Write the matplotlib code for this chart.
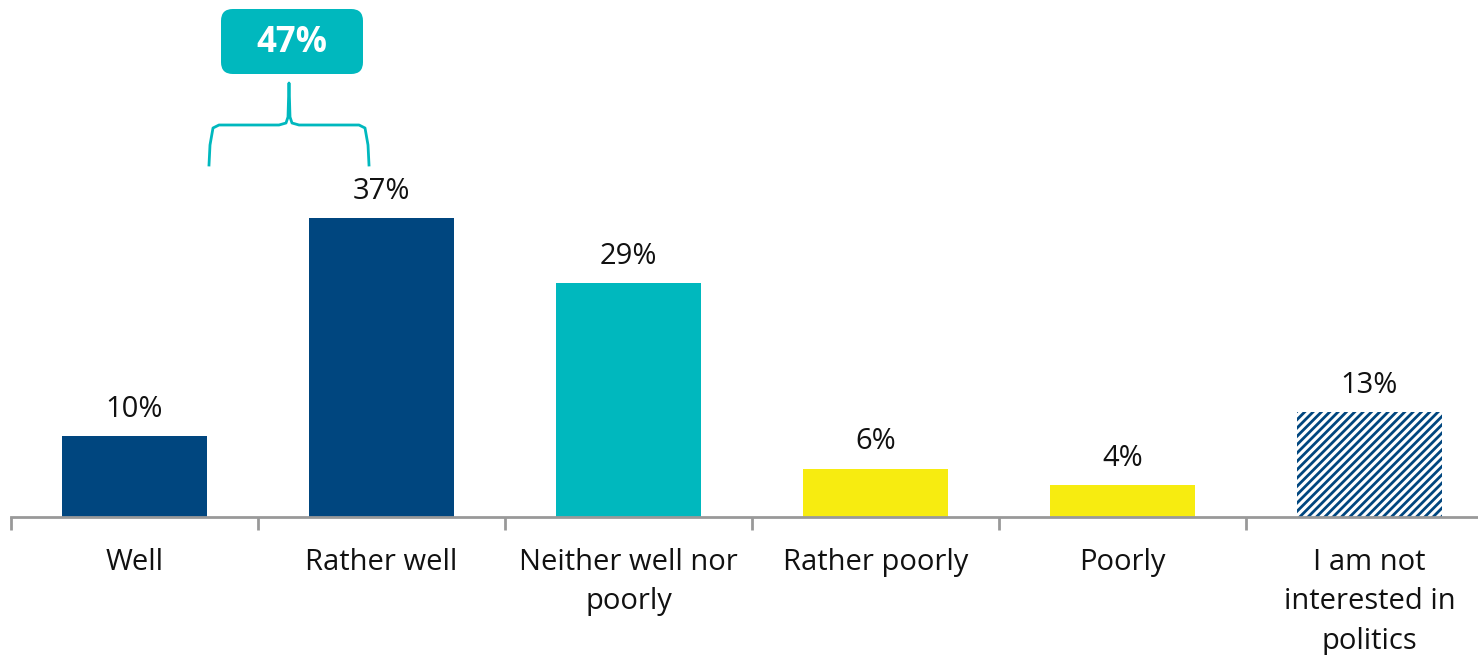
import matplotlib.pyplot as plt
from matplotlib.patches import FancyBboxPatch

plt.rcParams['font.family'] = ['Open Sans', 'DejaVu Sans']
plt.rcParams['hatch.linewidth'] = 2.0

categories = ["Well", "Rather well", "Neither well nor\npoorly", "Rather poorly",
              "Poorly", "I am not\ninterested in\npolitics"]
values = [10, 37, 29, 6, 4, 13]
labels = ["10%", "37%", "29%", "6%", "4%", "13%"]
total_label = "47%"

dark_blue = "#00467F"
teal = "#00B8BE"
yellow = "#F7EC10"
colors = [dark_blue, dark_blue, teal, yellow, yellow, "white"]

W, H = 1478, 655
fig = plt.figure(figsize=(W / 100, H / 100), dpi=100)
ax = fig.add_axes([11 / W, 138 / H, (W - 11) / W, 517 / H])
px_per_unit = 8.08
ax.set_xlim(-0.5, -0.5 + (W - 11) / 247)
ax.set_ylim(0, 517 / px_per_unit)

x = list(range(len(values)))
bars = ax.bar(x, values, width=0.587, color=colors, linewidth=0)
bars[-1].set_hatch("////")
bars[-1].set_edgecolor(dark_blue)

for xi, v, lab in zip(x, values, labels):
    ax.text(xi, v + 1.5, lab, ha="center", va="bottom", fontsize=21, color="#111111")

for s in ["top", "right", "left"]:
    ax.spines[s].set_visible(False)
ax.spines["bottom"].set_color("#999999")
ax.spines["bottom"].set_linewidth(2)
ax.set_yticks([])
ax.set_xticks([i - 0.5 for i in range(len(values))])
ax.set_xticklabels([])
ax.tick_params(axis="x", length=9, width=2, color="#999999", direction="out")
for xi, cat in zip(x, categories):
    ax.text(xi, -3.8, cat, ha="center", va="top", fontsize=21, color="#111111",
            linespacing=1.48)

# bracket over the first two bars
to_fig = lambda px, py: (px / W, 1 - py / H)
xl, xr, xm = 209, 369, 289
yb, yh, ytop = 165, 125, 83
r = 10
path_x = [xl, xl + 1, xl + 4, xl + r, xm - r, xm - 3, xm - 1, xm,
          xm + 1, xm + 3, xm + r, xr - r, xr - 4, xr - 1, xr]
path_y = [yb, yb - 20, yh + 3, yh, yh, yh - 2, yh - 8, ytop,
          yh - 8, yh - 2, yh, yh, yh + 3, yb - 20, yb]
pts = [to_fig(a, b) for a, b in zip(path_x, path_y)]
fig.add_artist(plt.Line2D([p[0] for p in pts], [p[1] for p in pts],
                          color=teal, lw=2, transform=fig.transFigure))

bx0, by0, bx1, by1 = 221, 9, 363, 74
fig.add_artist(FancyBboxPatch((bx0 / W, 1 - by1 / H), (bx1 - bx0) / W, (by1 - by0) / H,
                              boxstyle="round,pad=0,rounding_size=0.008",
                              mutation_aspect=W / H,
                              transform=fig.transFigure, facecolor=teal, lw=0))
fig.text((bx0 + bx1) / 2 / W, 1 - (by0 + by1 + 4) / 2 / H, total_label, ha="center",
         va="center", fontsize=25, fontweight="bold", color="white")

fig.savefig("out.png", dpi=100)
